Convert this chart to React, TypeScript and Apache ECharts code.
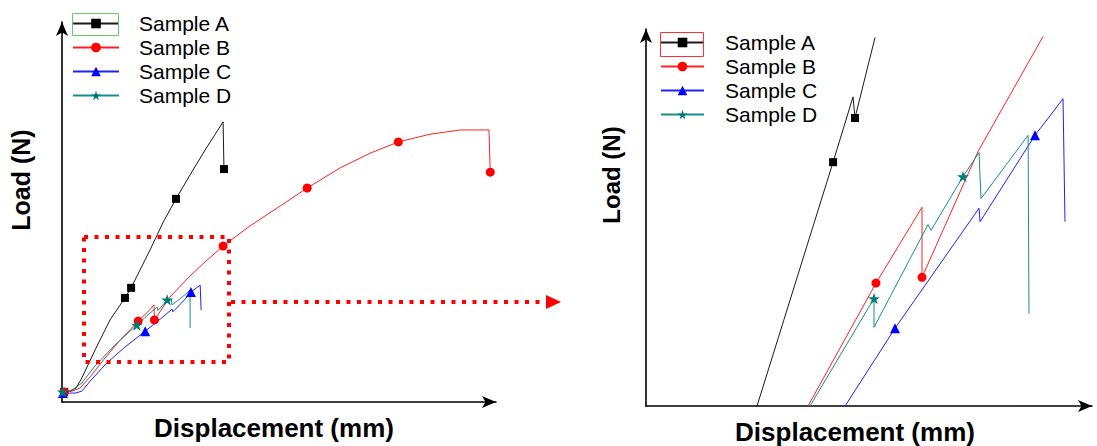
import React, { useEffect, useRef } from 'react';
import * as echarts from 'echarts';

const seriesNames = ['Sample A', 'Sample B', 'Sample C', 'Sample D'];

// Left panel: full load–displacement curves (displacement mm, load N)
const leftA = [[0.05, 26], [0.18, 28], [0.32, 36], [0.45, 62], [0.75, 134], [1.09, 212], [1.43, 269], [1.57, 295], [2.0, 393], [2.3, 465], [2.59, 525], [2.91, 587], [3.25, 651], [3.66, 724], [3.68, 602]];
const leftAMarks = [0, 6, 7, 10, 14];
const leftB = [[0.05, 26], [0.23, 28], [0.41, 36], [0.64, 65], [0.98, 114], [1.32, 160], [1.73, 209], [1.95, 233], [2.09, 251], [2.1, 212], [2.45, 271], [2.91, 326], [3.25, 362], [3.66, 403], [4.27, 455], [4.95, 506], [5.57, 553], [6.32, 605], [7.0, 643], [7.64, 672], [8.36, 692], [9.05, 703], [9.7, 703], [9.73, 594]];
const leftBMarks = [0, 6, 9, 13, 16, 19, 23];
const leftC = [[0.02, 23], [0.3, 23], [0.45, 28], [0.64, 54], [1.02, 101], [1.43, 142], [1.89, 183], [2.23, 214], [2.5, 240], [2.52, 233], [2.8, 266], [2.93, 284], [3.14, 302], [3.16, 238]];
const leftCMarks = [0, 6, 11];
const leftD = [[0.02, 26], [0.23, 31], [0.45, 49], [0.75, 93], [1.2, 147], [1.7, 199], [2.0, 230], [2.16, 245], [2.18, 236], [2.39, 264], [2.48, 266], [2.5, 251], [2.73, 271], [2.91, 289], [2.91, 191]];
const leftDMarks = [0, 5, 9];

// Right panel: magnified region
const rightA = [[0.74, 0], [1.247, 254], [1.38, 322], [1.393, 300], [1.527, 384]];
const rightAMarks = [1, 3];
const rightB = [[1.08, 0], [1.533, 128], [1.84, 207], [1.84, 134], [2.213, 265], [2.647, 385]];
const rightBMarks = [1, 3];
const rightC = [[1.327, 0], [1.66, 81], [2.22, 206], [2.227, 192], [2.593, 282], [2.78, 320], [2.793, 192]];
const rightCMarks = [1, 4];
const rightD = [[1.093, 0], [1.52, 112], [1.52, 82], [1.88, 189], [1.9, 183], [2.113, 239], [2.22, 264], [2.233, 216], [2.547, 282], [2.553, 96]];
const rightDMarks = [1, 5];

const STAR = 'path://M50 0 L61.8 35.1 L98.5 35.1 L68.8 56.8 L79.4 91.5 L50 70 L20.6 91.5 L31.2 56.8 L1.5 35.1 L38.2 35.1 Z';
const symbols = ['rect', 'circle', 'triangle', STAR];
const symbolSizes = [8, 9, 10, 12];
const lineColors = ['#1a1a1a', '#ff2020', '#2020ff', '#1a8c8c'];
const markColors = ['#000000', '#ff0000', '#0000ff', '#007b7b'];

const FONT = 'Liberation Sans, Arial, sans-serif';

function toData(pts: number[][], marks: number[]) {
  return pts.map((p, i) => (marks.includes(i) ? { value: p } : { value: p, symbol: 'none' }));
}

function makeSeries(idx: number, pts: number[][], marks: number[], axis: number) {
  return {
    type: 'line',
    name: seriesNames[idx],
    xAxisIndex: axis,
    yAxisIndex: axis,
    data: toData(pts, marks),
    symbol: symbols[idx],
    symbolSize: symbolSizes[idx],
    symbolKeepAspect: true,
    showSymbol: true,
    showAllSymbol: true,
    lineStyle: { color: lineColors[idx], width: 1 },
    itemStyle: { color: markColors[idx] },
    emphasis: { disabled: true },
    silent: true,
  };
}

function axisCommon(gridIndex: number, max: number) {
  return {
    gridIndex,
    type: 'value',
    min: 0,
    max,
    axisLine: {
      show: true,
      onZero: false,
      symbol: ['none', 'arrow'],
      symbolSize: [9, 14],
      lineStyle: { color: '#000', width: 1.6 },
    },
    axisTick: { show: false },
    axisLabel: { show: false },
    splitLine: { show: false },
  };
}

function buildOption() {
  const legendCommon = {
    orient: 'vertical',
    padding: 0,
    itemHeight: 12,
    itemGap: 3,
    data: seriesNames,
    selectedMode: false,
    textStyle: { fontSize: 21, fontFamily: FONT, color: '#000' },
  };
  return {
    animation: false,
    backgroundColor: '#ffffff',
    grid: [
      { left: 62, top: 22, width: 434, height: 380 },
      { left: 646, top: 29, width: 446, height: 377 },
    ],
    xAxis: [axisCommon(0, 9.86), axisCommon(1, 2.973)],
    yAxis: [axisCommon(0, 982), axisCommon(1, 392.7)],
    legend: [
      { ...legendCommon, left: 72, top: 13, itemWidth: 46, textStyle: { ...legendCommon.textStyle, padding: [0, 0, 0, 15] } },
      { ...legendCommon, left: 660, top: 32, itemWidth: 43, textStyle: { ...legendCommon.textStyle, padding: [0, 0, 0, 16] } },
    ],
    series: [
      makeSeries(0, leftA, leftAMarks, 0),
      makeSeries(1, leftB, leftBMarks, 0),
      makeSeries(2, leftC, leftCMarks, 0),
      makeSeries(3, leftD, leftDMarks, 0),
      makeSeries(0, rightA, rightAMarks, 1),
      makeSeries(1, rightB, rightBMarks, 1),
      makeSeries(2, rightC, rightCMarks, 1),
      makeSeries(3, rightD, rightDMarks, 1),
    ],
    graphic: [
      { type: 'rect', shape: { x: 72.5, y: 13.5, width: 46, height: 22 }, style: { fill: 'none', stroke: '#66cc66', lineWidth: 1 }, z: 10 },
      { type: 'rect', shape: { x: 660.5, y: 32.5, width: 43, height: 24 }, style: { fill: 'none', stroke: '#ff3333', lineWidth: 1 }, z: 10 },
      { type: 'rect', shape: { x: 84, y: 237, width: 145, height: 125 }, style: { fill: 'none', stroke: '#ff0000', lineWidth: 4, lineDash: [4, 6.5] }, z: 10 },
      { type: 'line', shape: { x1: 231, y1: 302, x2: 547, y2: 302 }, style: { stroke: '#ff0000', lineWidth: 4, lineDash: [4, 6.5] }, z: 10 },
      { type: 'polygon', shape: { points: [[546, 295], [561, 302], [546, 309]] }, style: { fill: '#ff0000' }, z: 10 },
      { type: 'text', x: 274, y: 428, style: { text: 'Displacement (mm)', font: `bold 26px ${FONT}`, fill: '#000', textAlign: 'center', textVerticalAlign: 'middle', align: 'center', verticalAlign: 'middle' } },
      { type: 'text', x: 855, y: 432, style: { text: 'Displacement (mm)', font: `bold 26px ${FONT}`, fill: '#000', textAlign: 'center', textVerticalAlign: 'middle', align: 'center', verticalAlign: 'middle' } },
      { type: 'text', x: 21, y: 180, rotation: Math.PI / 2, style: { text: 'Load (N)', font: `bold 25px ${FONT}`, fill: '#000', textAlign: 'center', textVerticalAlign: 'middle', align: 'center', verticalAlign: 'middle' } },
      { type: 'text', x: 611, y: 175, rotation: Math.PI / 2, style: { text: 'Load (N)', font: `bold 24px ${FONT}`, fill: '#000', textAlign: 'center', textVerticalAlign: 'middle', align: 'center', verticalAlign: 'middle' } },
    ],
  };
}

export default function App() {
  const ref = useRef<HTMLDivElement>(null);
  useEffect(() => {
    const chart = echarts.init(ref.current!, null, { renderer: 'svg' });
    chart.setOption(buildOption() as any);
    return () => chart.dispose();
  }, []);
  return (
    <div
      ref={ref}
      style={{ position: 'absolute', left: 0, top: 0, width: 1097, height: 446, background: '#fff' }}
    />
  );
}
